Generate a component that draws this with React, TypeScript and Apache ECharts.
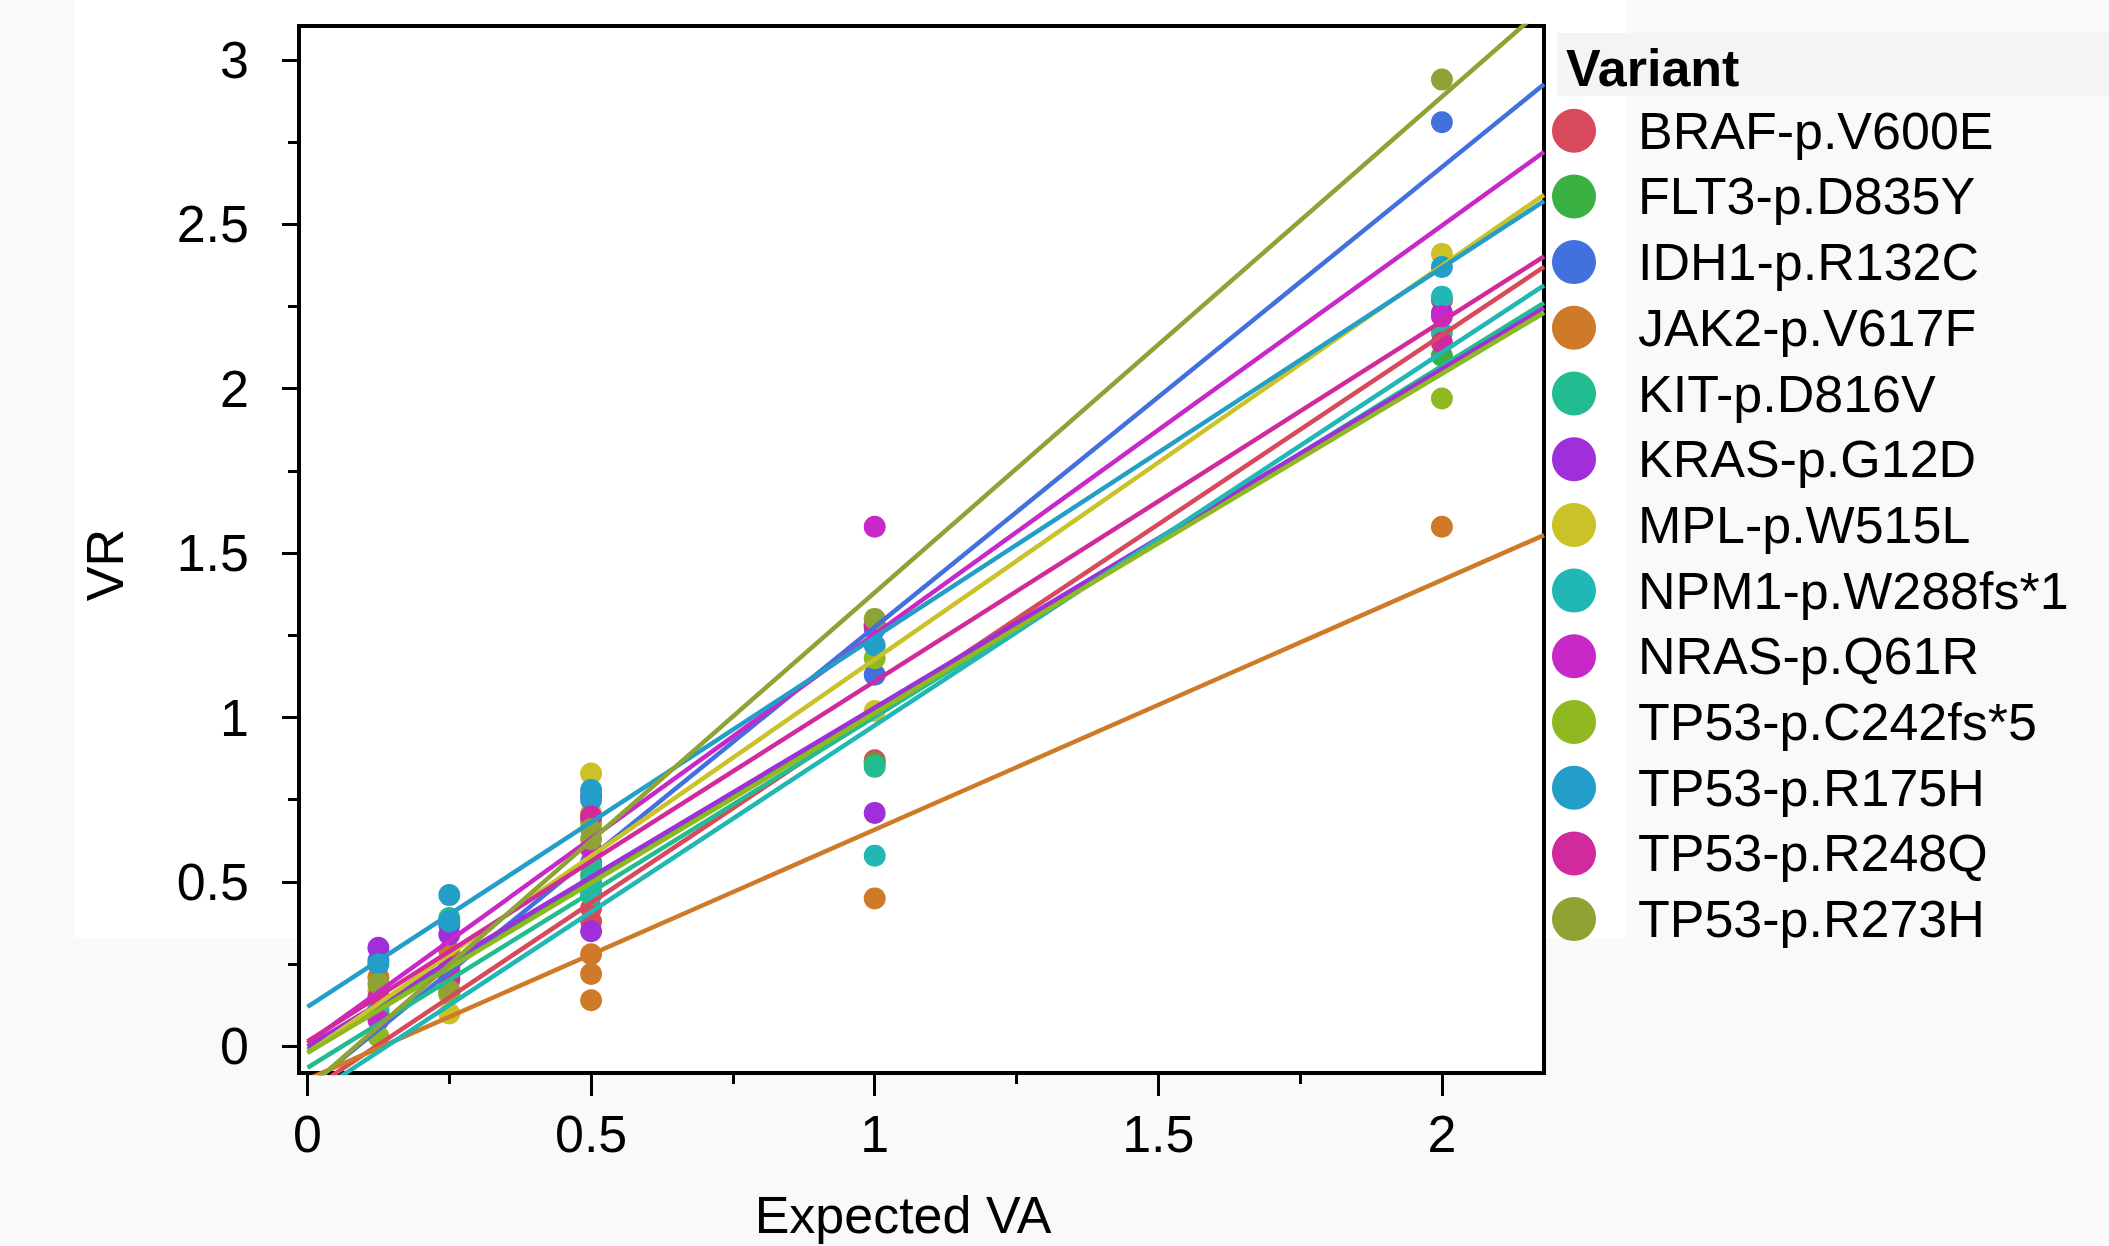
import React, { useEffect, useRef } from "react";
import * as echarts from "echarts";

const VARIANTS = [
  "BRAF-p.V600E",
  "FLT3-p.D835Y",
  "IDH1-p.R132C",
  "JAK2-p.V617F",
  "KIT-p.D816V",
  "KRAS-p.G12D",
  "MPL-p.W515L",
  "NPM1-p.W288fs*1",
  "NRAS-p.Q61R",
  "TP53-p.C242fs*5",
  "TP53-p.R175H",
  "TP53-p.R248Q",
  "TP53-p.R273H",
];

const COLORS = [
  "#D64A5C",
  "#3BB143",
  "#4271DD",
  "#CF7A28",
  "#22BC90",
  "#9F2FD9",
  "#CBC227",
  "#20B7B5",
  "#C828C8",
  "#8FB821",
  "#239EC8",
  "#D12A9C",
  "#8EA333",
];

// [Expected VA, VR] pairs per variant
const BRAF_POINTS = [[0.125, 0.1], [0.25, 0.2], [0.5, 0.69], [0.5, 0.42], [0.5, 0.38], [1, 0.87], [2, 2.27]];
const FLT3_POINTS = [[0.125, 0.11], [0.25, 0.16], [0.5, 0.52], [1, 0.86], [2, 2.1]];
const IDH1_POINTS = [[0.125, 0.26], [0.25, 0.37], [0.5, 0.56], [1, 1.13], [1, 1.27], [2, 2.81]];
const JAK2_POINTS = [[0.125, 0.21], [0.25, 0.29], [0.5, 0.28], [0.5, 0.22], [0.5, 0.14], [1, 0.45], [2, 1.58]];
const KIT_POINTS = [[0.125, 0.13], [0.25, 0.39], [0.5, 0.55], [0.5, 0.46], [1, 0.85], [2, 2.17]];
const KRAS_POINTS = [[0.125, 0.3], [0.25, 0.34], [0.5, 0.76], [0.5, 0.35], [1, 0.71], [2, 2.23]];
const MPL_POINTS = [[0.125, 0.17], [0.25, 0.1], [0.5, 0.83], [0.5, 0.71], [1, 1.02], [2, 2.41]];
const NPM1_POINTS = [[0.125, 0.12], [0.25, 0.23], [0.5, 0.5], [0.5, 0.47], [1, 0.58], [2, 2.28]];
const NRAS_POINTS = [[0.125, 0.08], [0.25, 0.24], [0.5, 0.6], [1, 1.58], [1, 1.28], [2, 2.22]];
const C242_POINTS = [[0.125, 0.03], [0.25, 0.16], [0.5, 0.68], [1, 1.18], [2, 1.97]];
const R175H_POINTS = [[0.125, 0.25], [0.25, 0.46], [0.25, 0.38], [0.5, 0.78], [0.5, 0.75], [1, 1.22], [2, 2.37]];
const R248Q_POINTS = [[0.125, 0.15], [0.25, 0.21], [0.5, 0.7], [1, 1.28], [2, 2.14]];
const R273H_POINTS = [[0.125, 0.19], [0.25, 0.17], [0.5, 0.66], [0.5, 0.63], [1, 1.3], [2, 2.94]];

const POINTS = [
  BRAF_POINTS, FLT3_POINTS, IDH1_POINTS, JAK2_POINTS, KIT_POINTS, KRAS_POINTS, MPL_POINTS,
  NPM1_POINTS, NRAS_POINTS, C242_POINTS, R175H_POINTS, R248Q_POINTS, R273H_POINTS,
];

// Linear fit lines per variant
const FIT_INTERCEPT = [-0.139, -0.01, -0.124, -0.1, -0.065, 0.0, -0.02, -0.158, 0.01, -0.02, 0.12, 0.015, -0.128];
const FIT_SLOPE = [1.151, 1.028, 1.399, 0.759, 1.067, 1.03, 1.197, 1.134, 1.243, 1.033, 1.124, 1.095, 1.508];

const X_RANGE = [-0.015, 2.18];
const Y_RANGE = [-0.081, 3.103];
const X_TICKS = [0, 0.5, 1, 1.5, 2];
const X_MINOR_TICKS = [0.25, 0.75, 1.25, 1.75];
const Y_TICKS = [0, 0.5, 1, 1.5, 2, 2.5, 3];
const Y_MINOR_TICKS = [0.25, 0.75, 1.25, 1.75, 2.25, 2.75];

const FONT = "'Liberation Sans', Arial, Helvetica, sans-serif";

export default function App() {
  const ref = useRef<HTMLDivElement>(null);

  useEffect(() => {
    if (!ref.current) return;
    const chart = echarts.init(ref.current, null, { renderer: "svg" });

    const scatterSeries = VARIANTS.map((name, i) => ({
      type: "scatter",
      name,
      xAxisIndex: 0,
      yAxisIndex: 0,
      data: POINTS[i],
      symbol: "circle",
      symbolSize: 22,
      itemStyle: { color: COLORS[i], opacity: 1 },
      z: 2,
      silent: true,
    }));

    const lineSeries = VARIANTS.map((name, i) => ({
      type: "line",
      name,
      xAxisIndex: 0,
      yAxisIndex: 0,
      data: [0, X_RANGE[1]].map((x) => [x, FIT_INTERCEPT[i] + FIT_SLOPE[i] * x]),
      showSymbol: false,
      symbol: "none",
      clip: true,
      lineStyle: { color: COLORS[i], width: 4.5 },
      itemStyle: { color: COLORS[i] },
      z: 3,
      silent: true,
    }));

    const axisCommon = {
      type: "value",
      axisLine: { show: false, onZero: false },
      splitLine: { show: false },
    };

    chart.setOption({
      animation: false,
      backgroundColor: "#f9f9f9",
      grid: {
        left: 299,
        top: 26,
        width: 1245,
        height: 1047,
        show: true,
        backgroundColor: "#ffffff",
        borderColor: "#000000",
        borderWidth: 4,
        containLabel: false,
      },
      xAxis: [
        {
          ...axisCommon,
          position: "bottom",
          min: X_RANGE[0],
          max: X_RANGE[1],
          axisTick: { show: true, customValues: X_TICKS, length: 23, lineStyle: { color: "#000", width: 3 } },
          axisLabel: {
            show: true,
            customValues: X_TICKS,
            margin: 35,
            fontSize: 52,
            lineHeight: 52,
            color: "#000",
            fontFamily: FONT,
          },
        },
        {
          ...axisCommon,
          position: "bottom",
          min: X_RANGE[0],
          max: X_RANGE[1],
          axisTick: { show: true, customValues: X_MINOR_TICKS, length: 11, lineStyle: { color: "#000", width: 3 } },
          axisLabel: { show: false },
        },
      ],
      yAxis: [
        {
          ...axisCommon,
          position: "left",
          min: Y_RANGE[0],
          max: Y_RANGE[1],
          axisTick: { show: true, customValues: Y_TICKS, length: 17, lineStyle: { color: "#000", width: 3 } },
          axisLabel: {
            show: true,
            customValues: Y_TICKS,
            margin: 50,
            fontSize: 52,
            color: "#000",
            fontFamily: FONT,
          },
        },
        {
          ...axisCommon,
          position: "left",
          min: Y_RANGE[0],
          max: Y_RANGE[1],
          axisTick: { show: true, customValues: Y_MINOR_TICKS, length: 11, lineStyle: { color: "#000", width: 3 } },
          axisLabel: { show: false },
        },
      ],
      legend: {
        orient: "vertical",
        left: 1552,
        top: 104.7,
        padding: 0,
        itemWidth: 44,
        itemHeight: 44,
        itemGap: 13.7,
        selectedMode: false,
        data: VARIANTS.map((name) => ({ name, icon: "circle" })),
        textStyle: {
          fontSize: 52,
          color: "#000",
          fontFamily: FONT,
          padding: [0, 0, 0, 37],
        },
      },
      graphic: [
        {
          type: "rect",
          z: -100,
          silent: true,
          shape: { x: 75, y: 0, width: 1551, height: 938 },
          style: { fill: "#ffffff" },
        },
        {
          type: "rect",
          z: -100,
          silent: true,
          shape: { x: 1557, y: 33, width: 552, height: 63 },
          style: { fill: "#f4f4f4" },
        },
        {
          type: "text",
          x: 1566,
          y: 68,
          silent: true,
          style: {
            text: "Variant",
            fontSize: 52,
            fontWeight: "bold",
            fontFamily: FONT,
            fill: "#000",
            align: "left",
            verticalAlign: "middle",
          },
        },
        {
          type: "text",
          x: 105,
          y: 565,
          rotation: Math.PI / 2,
          silent: true,
          style: {
            text: "VR",
            fontSize: 52,
            fontFamily: FONT,
            fill: "#000",
            align: "center",
            verticalAlign: "middle",
          },
        },
        {
          type: "text",
          x: 903,
          y: 1215,
          silent: true,
          style: {
            text: "Expected VA",
            fontSize: 52,
            fontFamily: FONT,
            fill: "#000",
            align: "center",
            verticalAlign: "middle",
          },
        },
      ],
      series: [...scatterSeries, ...lineSeries],
    });

    return () => {
      chart.dispose();
    };
  }, []);

  return (
    <div
      ref={ref}
      style={{ position: "absolute", left: 0, top: 0, width: 2109, height: 1246 }}
    />
  );
}
